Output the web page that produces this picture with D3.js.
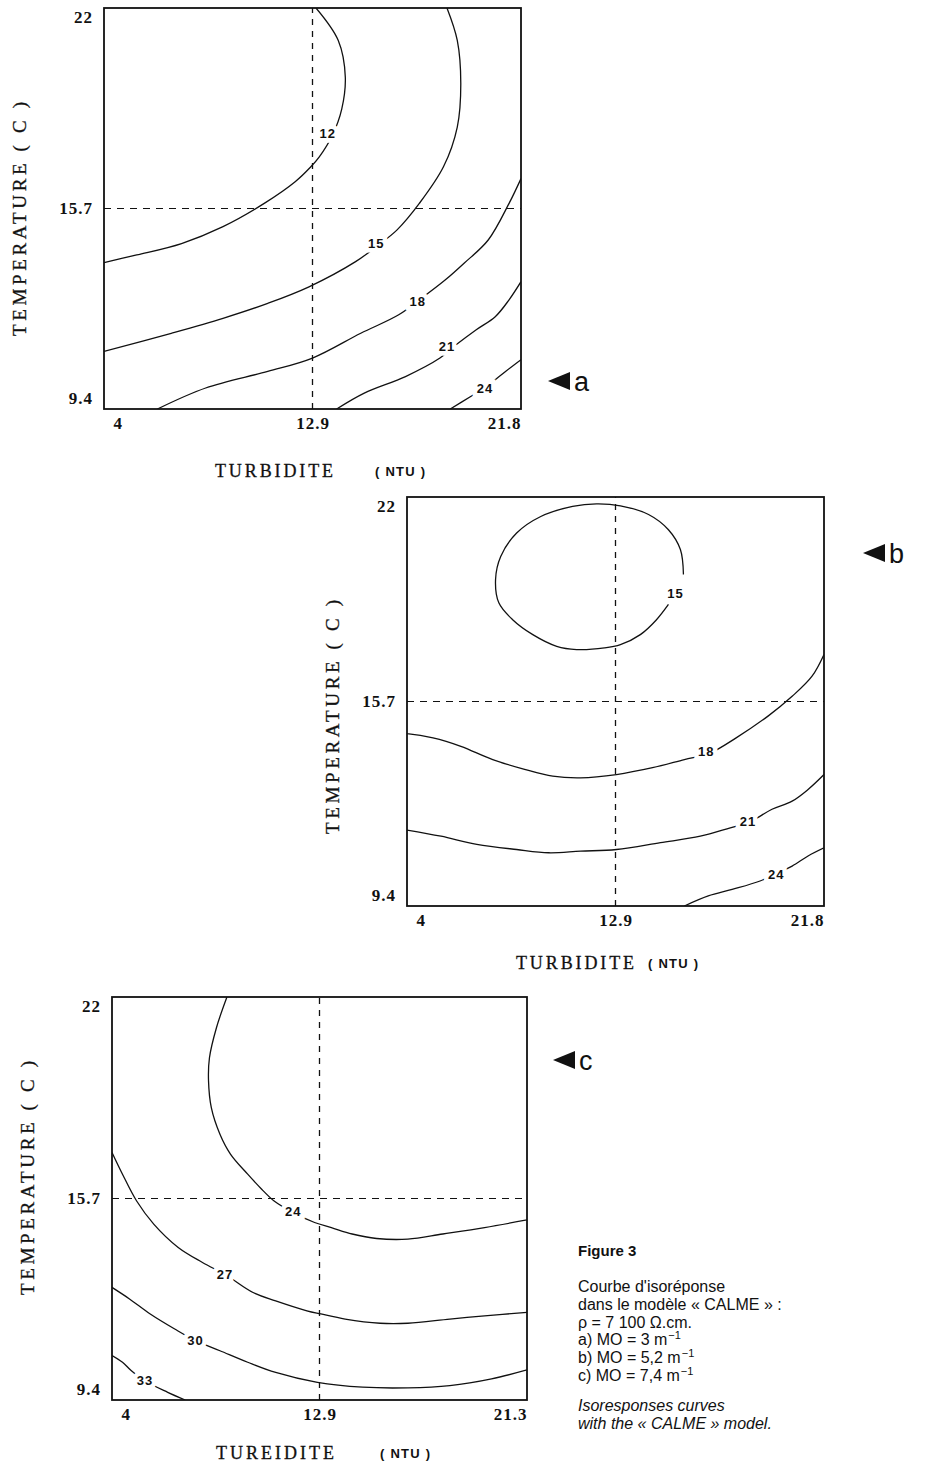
<!DOCTYPE html>
<html><head><meta charset="utf-8">
<script src="https://cdn.jsdelivr.net/npm/d3@7"></script>
<style>
body{margin:0;background:#fff;}
svg{display:block;}
</style></head>
<body>
<svg id="chart" width="928" height="1469"></svg>
<script>
// ---------------- DATA ----------------
const xDomain = [4, 21.8];          // Turbidité (NTU)
const yDomain = [9.4, 22];          // Température (°C)
const xTickValues = [4, 12.9, 21.8];
const yTickValues = [9.4, 15.7, 22];
const xTickLabelsAB = ["4", "12.9", "21.8"];
const xTickLabelsC = ["4", "12.9", "21.3"];
const yTickLabels = ["9.4", "15.7", "22"];
const centerX = 12.9, centerY = 15.7;

// contour polylines [turbidity, temperature]; label = position of level text
const contoursA = [
  {level: 12, label: [13.55, 18.05], pts: [[13.05,22],[14.0,20.98],[14.3,19.83],[14.15,18.83],[13.75,18.0],[13.19,17.32],[12.83,17.01],[12.16,16.54],[10.84,15.86],[9.08,15.13],[7.31,14.6],[5.4,14.24],[4,14.0]]},
  {level: 15, label: [15.62, 14.6], pts: [[18.64,22],[19.08,20.98],[19.23,19.62],[19.08,18.26],[18.49,17.01],[17.46,15.86],[16.5,15.02],[15.62,14.5],[14.74,14.03],[12.75,13.24],[10.99,12.72],[9.08,12.25],[6.87,11.78],[4,11.21]]},
  {level: 18, label: [17.39, 12.77], pts: [[21.8,16.64],[21.29,15.86],[20.4,14.71],[19.37,13.98],[18.56,13.45],[17.5,12.85],[16.58,12.36],[14.96,11.78],[12.9,11.0],[10.99,10.58],[8.34,10.06],[6.28,9.4]]},
  {level: 21, label: [18.64, 11.36], pts: [[21.8,13.4],[21.29,12.83],[20.7,12.3],[19.89,11.89],[19.0,11.4],[18.34,11.0],[16.87,10.42],[15.11,9.9],[13.93,9.4]]},
  {level: 24, label: [20.26, 10.06], pts: [[21.8,10.95],[21.14,10.58],[20.7,10.32],[20.2,10.03],[19.67,9.8],[18.78,9.4]]}
];
const contoursB = [
  {level: 15, label: [15.46, 19.04], pts: [[15.8,19.61],[15.67,20.38],[15.16,20.99],[14.31,21.46],[13.11,21.73],[12.09,21.79],[11.07,21.71],[9.71,21.4],[8.68,20.89],[8.0,20.17],[7.78,19.46],[7.92,18.74],[8.51,18.22],[9.37,17.76],[10.39,17.4],[11.24,17.3],[12.43,17.35],[13.11,17.45],[13.96,17.76],[14.65,18.22],[15.16,18.69]]},
  {level: 18, label: [16.77, 14.17], pts: [[21.8,17.15],[21.29,16.48],[20.44,15.86],[19.41,15.25],[18.05,14.58],[16.9,14.1],[15.84,13.91],[14.48,13.66],[12.94,13.45],[11.41,13.35],[10.22,13.4],[9.02,13.61],[7.66,13.91],[6.3,14.32],[5.11,14.58],[4,14.71]]},
  {level: 21, label: [18.56, 12.02], pts: [[21.8,13.45],[21.12,12.99],[20.44,12.63],[19.58,12.38],[18.6,11.98],[17.8,11.81],[16.52,11.55],[14.82,11.35],[12.94,11.14],[11.41,11.09],[10.05,11.04],[8.68,11.14],[6.98,11.3],[5.45,11.55],[4,11.74]]},
  {level: 24, label: [19.76, 10.37], pts: [[21.8,11.19],[21.12,10.94],[20.44,10.63],[19.76,10.4],[19.07,10.17],[17.88,9.91],[16.86,9.71],[15.84,9.4]]}
];
const contoursC = [
  {level: 24, label: [11.77, 15.31], pts: [[8.93,22],[8.48,21.04],[8.18,20.1],[8.14,19.38],[8.26,18.54],[8.63,17.71],[9.08,17.09],[9.82,16.46],[10.42,15.99],[10.94,15.63],[11.8,15.25],[12.69,14.95],[13.41,14.79],[14.3,14.59],[15.35,14.45],[16.69,14.43],[18.19,14.59],[19.98,14.79],[21.8,15.03]]},
  {level: 27, label: [8.85, 13.34], pts: [[4,17.14],[4.45,16.46],[5.05,15.63],[5.79,14.9],[6.84,14.17],[7.88,13.7],[8.9,13.3],[10.05,12.76],[11.02,12.5],[12.36,12.19],[12.96,12.09],[14.0,11.93],[15.5,11.8],[16.69,11.8],[18.49,11.93],[19.98,12.03],[21.8,12.14]]},
  {level: 30, label: [7.58, 11.26], pts: [[4,12.92],[4.75,12.56],[5.64,12.09],[6.69,11.62],[7.6,11.25],[8.63,10.94],[9.82,10.58],[11.02,10.26],[12.81,9.95],[14.75,9.8],[16.69,9.78],[18.49,9.85],[20.28,10.06],[21.8,10.34]]},
  {level: 33, label: [5.42, 10.0], pts: [[4,10.79],[4.45,10.58],[4.82,10.32],[5.4,10.0],[6.39,9.64],[7.14,9.4]]}
];

const captionLines = [
  "Courbe d'isoréponse",
  "dans le modèle « CALME » :",
  "ρ = 7 100  Ω.cm.",
  "a) MO = 3 m",
  "b) MO = 5,2 m",
  "c) MO = 7,4 m"
];
const captionEnglish = ["Isoresponses curves", "with the « CALME » model."];

// ---------------- DRAW ----------------
const svg = d3.select("#chart");
const serif = "'Liberation Serif', 'DejaVu Serif', serif";
const sans = "'Liberation Sans', Arial, sans-serif";

function panel(cfg) {
  const x = d3.scaleLinear().domain(xDomain).range([cfg.x0, cfg.x1]);
  const y = d3.scaleLinear().domain(yDomain).range([cfg.y1, cfg.y0]);
  const g = svg.append("g");
  const clipId = "clip" + cfg.id;
  g.append("clipPath").attr("id", clipId).append("rect")
    .attr("x", cfg.x0).attr("y", cfg.y0).attr("width", cfg.x1 - cfg.x0).attr("height", cfg.y1 - cfg.y0);

  const plot = g.append("g").attr("clip-path", `url(#${clipId})`);
  // dashed centre lines
  plot.append("line").attr("x1", x(centerX)).attr("x2", x(centerX)).attr("y1", y(yDomain[0])).attr("y2", y(yDomain[1]))
    .attr("stroke", "#111").attr("stroke-width", 1.3).attr("stroke-dasharray", "6,6");
  plot.append("line").attr("x1", x(xDomain[0])).attr("x2", x(xDomain[1])).attr("y1", y(centerY)).attr("y2", y(centerY))
    .attr("stroke", "#111").attr("stroke-width", 1.1).attr("stroke-dasharray", "7,6");

  const line = d3.line().x(d => x(d[0])).y(d => y(d[1])).curve(d3.curveCatmullRom.alpha(0.5));
  plot.selectAll("path.contour").data(cfg.contours).join("path")
    .attr("class", "contour").attr("d", d => line(d.pts))
    .attr("fill", "none").attr("stroke", "#111").attr("stroke-width", 1.3);
  plot.selectAll("text.lbl").data(cfg.contours).join("text")
    .attr("class", "lbl")
    .attr("x", d => x(d.label[0])).attr("y", d => y(d.label[1]))
    .attr("dy", "0.35em").attr("text-anchor", "middle")
    .attr("font-family", sans).attr("font-size", 13).attr("font-weight", "bold")
    .attr("letter-spacing", 1)
    .attr("paint-order", "stroke").attr("stroke", "#fff").attr("stroke-width", 9)
    .attr("fill", "#111")
    .text(d => d.level);

  // frame
  g.append("rect").attr("x", cfg.x0).attr("y", cfg.y0).attr("width", cfg.x1 - cfg.x0).attr("height", cfg.y1 - cfg.y0)
    .attr("fill", "none").attr("stroke", "#111").attr("stroke-width", 1.8);

  // axes
  const yAxis = d3.axisLeft(y).tickValues(yTickValues).tickSize(0).tickPadding(11)
    .tickFormat((d, i) => yTickLabels[i]);
  const ya = g.append("g").attr("transform", `translate(${cfg.x0},0)`).call(yAxis);
  ya.select(".domain").remove();
  ya.selectAll("text").attr("font-family", serif).attr("font-size", 17).attr("font-weight", "bold").attr("fill", "#111")
    .attr("letter-spacing", 1)
    .attr("dy", (d, i) => i === 0 ? "-0.3em" : (i === 2 ? "0.85em" : "0.32em"));

  const xAxis = d3.axisBottom(x).tickValues(xTickValues).tickSize(0).tickPadding(8)
    .tickFormat((d, i) => cfg.xLabels[i]);
  const xa = g.append("g").attr("transform", `translate(0,${cfg.y1})`).call(xAxis);
  xa.select(".domain").remove();
  xa.selectAll("text").attr("font-family", serif).attr("font-size", 17).attr("font-weight", "bold").attr("fill", "#111")
    .attr("letter-spacing", 1)
    .attr("text-anchor", (d, i) => i === 0 ? "start" : (i === 2 ? "end" : "middle"))
    .attr("dx", (d, i) => i === 0 ? 9 : 0);

  // axis titles
  g.append("text").attr("transform", `translate(${cfg.yTitleX},${cfg.yTitleY}) rotate(-90)`)
    .attr("text-anchor", "middle").attr("dy", "0.35em")
    .attr("font-family", serif).attr("font-size", 19).attr("fill", "#111")
    .attr("stroke", "#111").attr("stroke-width", 0.3)
    .attr("textLength", 234).attr("lengthAdjust", "spacing")
    .text("TEMPERATURE ( C )");
  g.append("text").attr("x", cfg.xTitleX).attr("y", cfg.xTitleY).attr("dy", "0.35em")
    .attr("font-family", serif).attr("font-size", 18).attr("fill", "#111")
    .attr("stroke", "#111").attr("stroke-width", 0.3)
    .attr("textLength", 118).attr("lengthAdjust", "spacing")
    .text(cfg.xTitle);
  g.append("text").attr("x", cfg.ntuX).attr("y", cfg.xTitleY).attr("dy", "0.35em")
    .attr("font-family", sans).attr("font-size", 13).attr("font-weight", "bold").attr("fill", "#111")
    .attr("textLength", 50).attr("lengthAdjust", "spacing")
    .text("( NTU )");

  // panel marker
  const m = g.append("g").attr("transform", `translate(${cfg.mx},${cfg.my})`);
  m.append("path").attr("d", "M0,0 L22,-9 L22,9 Z").attr("fill", "#111");
  m.append("text").attr("x", 26).attr("y", 0).attr("dy", "0.36em")
    .attr("font-family", sans).attr("font-size", 27).attr("fill", "#111").text(cfg.letter);
}

panel({id: "a", x0: 104, x1: 521, y0: 8, y1: 409, contours: contoursA, xLabels: xTickLabelsAB,
  yTitleX: 19, yTitleY: 219, xTitle: "TURBIDITE", xTitleX: 215, xTitleY: 471, ntuX: 375,
  mx: 548, my: 381, letter: "a"});
panel({id: "b", x0: 407, x1: 824, y0: 497, y1: 906, contours: contoursB, xLabels: xTickLabelsAB,
  yTitleX: 332, yTitleY: 717, xTitle: "TURBIDITE", xTitleX: 516, xTitleY: 963, ntuX: 648,
  mx: 863, my: 553, letter: "b"});
panel({id: "c", x0: 112, x1: 527, y0: 997, y1: 1400, contours: contoursC, xLabels: xTickLabelsC,
  yTitleX: 27, yTitleY: 1178, xTitle: "TUREIDITE", xTitleX: 216, xTitleY: 1453, ntuX: 380,
  mx: 553, my: 1060, letter: "c"});

// caption
const cap = svg.append("g").attr("font-family", sans).attr("fill", "#111");
cap.append("text").attr("x", 578).attr("y", 1256).attr("font-size", 15).attr("font-weight", "bold").text("Figure 3");
captionLines.forEach((t, i) => {
  const tx = cap.append("text").attr("x", 578).attr("y", 1292 + i * 17.8).attr("font-size", 16);
  tx.append("tspan").text(t);
  if (i >= 3) tx.append("tspan").attr("dy", -6).attr("font-size", 11).attr("dx", 1).text("−1");
});
captionEnglish.forEach((t, i) => {
  cap.append("text").attr("x", 578).attr("y", 1411 + i * 17.8).attr("font-size", 16)
    .attr("font-style", "italic").text(t);
});
</script>
</body></html>
